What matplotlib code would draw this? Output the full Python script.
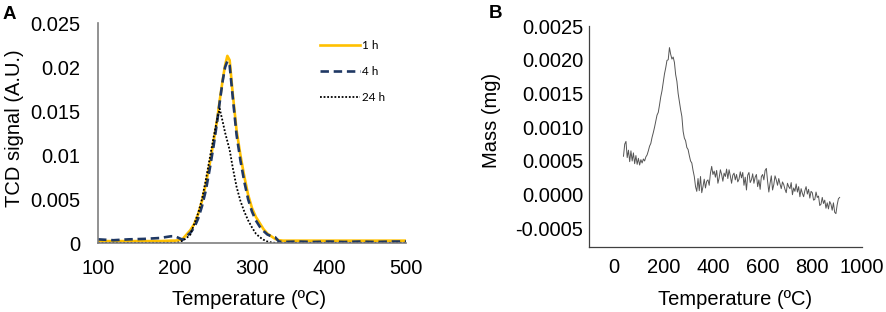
import numpy as np
import matplotlib
matplotlib.use("Agg")
import matplotlib.pyplot as plt

plt.rcParams['font.family'] = ['Liberation Sans', 'DejaVu Sans']

# panel A: TCD signal vs temperature
temp_a = [100, 120, 140, 160, 180, 195, 200, 205, 210, 215, 220, 225, 230, 235, 240,
          245, 250, 255, 258, 262, 265, 268, 271, 275, 280, 285, 290, 295, 300,
          305, 310, 315, 320, 325, 330, 335, 340, 360, 380, 400, 420, 440, 460, 480, 500]
tcd_1h = [0.25, 0.25, 0.25, 0.25, 0.25, 0.3, 0.3, 0.35, 0.5, 1.0, 1.5, 2.2, 3.3, 4.8, 6.7,
          9.0, 11.5, 14.2, 16.2, 18.6, 20.2, 21.3, 20.8, 17.0, 12.8, 10.0, 7.6, 5.5, 4.0,
          3.0, 2.3, 1.6, 1.1, 0.8, 0.5, 0.35, 0.3, 0.3, 0.3, 0.3, 0.3, 0.3, 0.3, 0.3, 0.3]
tcd_4h = [0.45, 0.35, 0.45, 0.5, 0.6, 0.8, 0.8, 0.6, 0.4, 0.8, 1.2, 1.8, 2.8, 4.2, 6.0,
          8.4, 11.0, 14.0, 16.0, 18.5, 20.0, 20.7, 20.2, 16.6, 12.3, 9.4, 7.0, 5.0, 3.6,
          2.6, 1.9, 1.4, 1.0, 0.8, 0.7, 0.2, 0.15, 0.2, 0.15, 0.2, 0.15, 0.2, 0.15, 0.2, 0.2]
tcd_24h = [0.05, 0.05, 0.05, 0.05, 0.05, 0.05, 0.05, 0.1, 0.3, 0.6, 1.0, 2.2, 3.4, 5.0, 7.2,
           9.6, 12.0, 14.2, 15.3, 13.8, 12.6, 11.6, 10.6, 8.6, 6.4, 4.8, 3.6, 2.6, 1.8,
           1.1, 0.7, 0.4, 0.2, 0.1, 0.05, 0.05, 0.05, 0.05, 0.05, 0.05, 0.05, 0.05, 0.05, 0.05, 0.05]
labels_a = ['1 h', '4 h', '24 h']

# panel B: mass (x1e-4 mg), sampled every 5 C from 40 to 910 C
mass_b = [5.7, 7.5, 7.9, 5.5, 6.6, 4.9, 6.5, 5.0, 6.2, 4.6, 5.8, 4.5, 5.4, 4.4, 5.2,
          4.7, 5.3, 5.0, 5.6, 5.9, 6.5, 7.2, 7.6, 8.5, 9.2, 10.0, 10.9, 11.8,
          12.2, 13.3, 14.5, 15.4, 16.6, 17.9, 18.8, 19.9, 20.0, 21.8, 20.8,
          20.1, 20.4, 19.6, 17.8, 16.8, 15.0, 13.8, 12.6, 11.6, 9.4, 8.4, 8.0, 7.0, 6.7,
          5.8, 5.0, 4.7, 3.6, 2.7, 1.2, 0.5, 2.4,
          0.6, 2.7, 0.3, 1.2, 2.3, 1.0, 2.0, 2.2, 1.4, 3.2, 4.2, 3.0,
          3.5, 2.6, 3.6, 1.7, 2.5, 3.7, 3.0, 2.0, 3.2, 2.7, 3.8, 2.4, 3.7, 2.8, 1.7, 2.9, 3.2, 2.2, 3.0, 1.9,
          2.3, 3.4, 2.5, 3.3, 1.4, 2.6, 0.7, 2.9, 3.3, 1.8, 2.2, 3.1, 1.7, 2.6, 3.0, 1.2, 2.2, 0.8, 2.7, 3.0,
          2.2, 3.6, 3.9, 2.0, 0.4, 1.7, 2.8, 0.7, 1.5, 2.8, 2.2, 1.4, 2.4, 1.6, 0.9, 1.9, 1.5, 0.8, 0.3, 1.7,
          1.2, 0.9, 1.8, 0.0, 1.0, 0.5, 1.6, 0.4, 1.2, -0.3, 0.9, 0.2, -0.3, 0.6, 1.2, 0.1, 0.8, -0.5, 0.5, 0.3,
          -0.8, -0.7, 0.4, -0.4, -0.2, -1.6, -1.4, -0.4, -1.3, -0.8, -2.0, -1.2, -2.1, -1.0, -1.4, -2.3,
          -1.2, -2.6, -2.8, -1.5, -0.6, -0.4]
temp_b = np.linspace(40, 910, len(mass_b))

fig = plt.figure(figsize=(8.86, 3.12), dpi=100)
W, H = 886, 312

# ---- panel A
ax = fig.add_axes([98 / W, 1 - 243.3 / H, 308 / W, 220 / H])
ax.plot(temp_a, np.array(tcd_1h) * 1e-3, color='#FFC000', lw=1.9, label=labels_a[0])
ax.plot(temp_a, np.array(tcd_4h) * 1e-3, color='#1F3864', lw=1.9, dashes=(3.2, 1.8), label=labels_a[1])
ax.plot(temp_a, np.array(tcd_24h) * 1e-3, color='black', lw=1.3, dashes=(1, 1), label=labels_a[2])
ax.set_xlim(100, 500)
ax.set_ylim(0, 0.025)
ax.set_xticks([100, 200, 300, 400, 500])
ax.set_yticks([0, 0.005, 0.01, 0.015, 0.02, 0.025])
ax.set_yticklabels(['0', '0.005', '0.01', '0.015', '0.02', '0.025'])
for s in ['top', 'right']:
    ax.spines[s].set_visible(False)
for s in ['left', 'bottom']:
    ax.spines[s].set_color('#7f7f7f')
    ax.spines[s].set_linewidth(1.2)
ax.tick_params(axis='y', length=0, labelsize=14.5, pad=13)
ax.tick_params(axis='x', length=0, labelsize=14.5, pad=11)
ax.legend(loc='upper left', bbox_to_anchor=(0.72, 0.925), frameon=False,
          prop={'family': 'Lato', 'size': 8.5}, handlelength=3.4, handletextpad=0.2,
          labelspacing=1.3, borderpad=0, borderaxespad=0)

fig.text(3 / W, 1 - 19.3 / H, 'A', fontsize=13.5, fontweight='bold')
fig.text(15 / W, 1 - 128.3 / H, 'TCD signal (A.U.)', rotation=90, ha='center', va='center', fontsize=14.5)
fig.text(249.2 / W, 1 - 305 / H, 'Temperature (ºC)', ha='center', va='baseline', fontsize=14.5)

# ---- panel B
bx = fig.add_axes([588.7 / W, 1 - 246.7 / H, 273.3 / W, 220.7 / H])
bx.plot(temp_b, np.array(mass_b) * 1e-4, color='#555555', lw=0.7)
bx.set_xlim(-100, 1000)
bx.set_ylim(-0.00077, 0.0025)
bx.set_xticks([0, 200, 400, 600, 800, 1000])
yt = [-0.0005, 0.0, 0.0005, 0.001, 0.0015, 0.002, 0.0025]
bx.set_yticks(yt)
bx.set_yticklabels(['%.4f' % v for v in yt])
for s in ['top', 'right']:
    bx.spines[s].set_visible(False)
for s in ['left', 'bottom']:
    bx.spines[s].set_color('#404040')
    bx.spines[s].set_linewidth(0.9)
bx.tick_params(axis='y', length=0, labelsize=14.5, pad=4)
bx.tick_params(axis='x', length=0, labelsize=14.5, pad=8)

fig.text(489 / W, 1 - 17.5 / H, 'B', fontsize=13.5, fontweight='bold')
fig.text(491.8 / W, 1 - 120.8 / H, 'Mass (mg)', rotation=90, ha='center', va='center', fontsize=14.5)
fig.text(735.2 / W, 1 - 305 / H, 'Temperature (ºC)', ha='center', va='baseline', fontsize=14.5)

fig.savefig('out.png', dpi=100)
